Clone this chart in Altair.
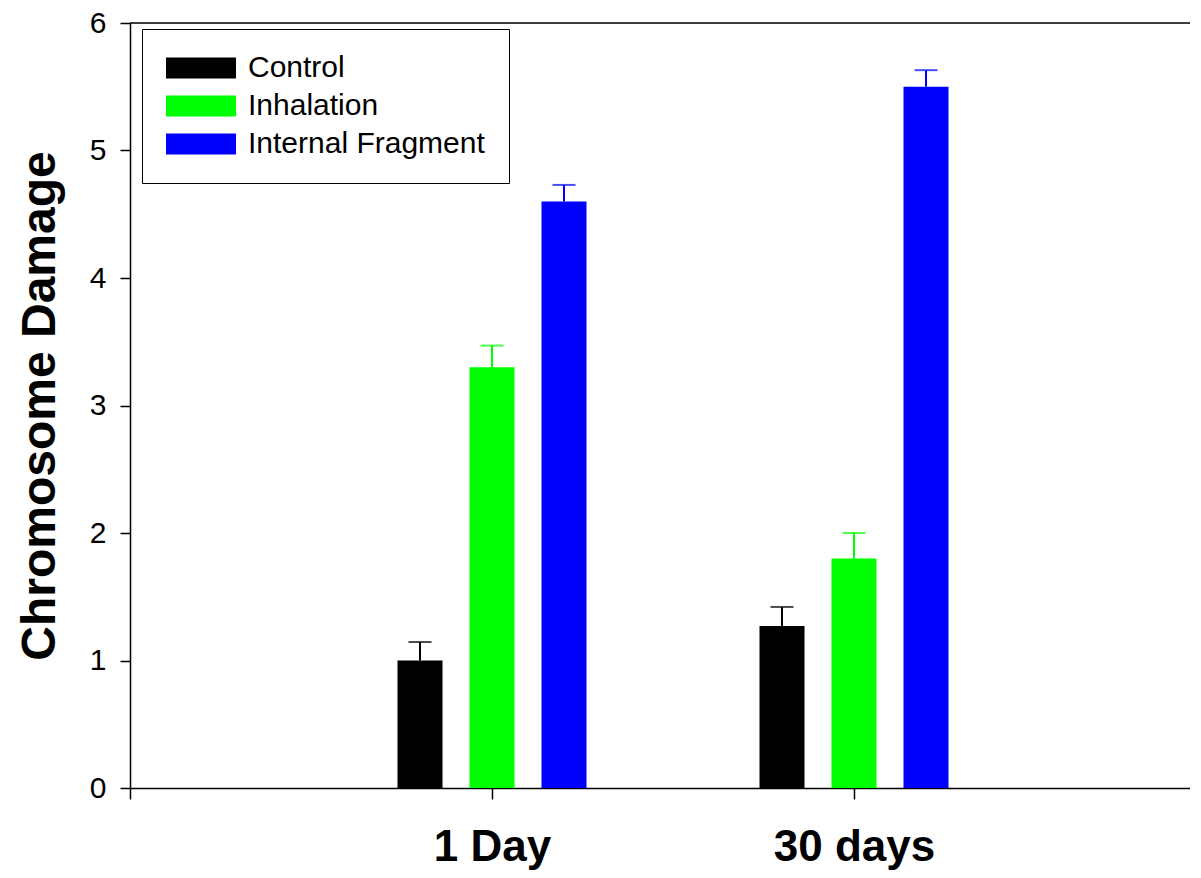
import altair as alt
import pandas as pd

groups = ["1 Day", "30 days"]
series = ["Control", "Inhalation", "Internal Fragment"]
colors = ["#000000", "#00ff00", "#0000ff"]
control = [1.0, 1.27]
inhalation = [3.3, 1.8]
internal = [4.6, 5.5]
control_err = [0.145, 0.15]
inhalation_err = [0.17, 0.2]
internal_err = [0.13, 0.13]
y_ticks = [0, 1, 2, 3, 4, 5, 6]

W = 1060
H = 765
GROUP_PX = 362
OFFSET_PX = 72
FONT = "Liberation Sans"

rows = []
for si, (name, vals, errs) in enumerate(
    zip(series, [control, inhalation, internal], [control_err, inhalation_err, internal_err])
):
    for gi, g in enumerate(groups):
        rows.append(
            dict(
                group=g,
                series=name,
                value=vals[gi],
                err=errs[gi],
                top=vals[gi] + errs[gi],
                pos=gi + 1 + (si - 1) * OFFSET_PX / GROUP_PX,
            )
        )
df = pd.DataFrame(rows)

label_expr = "''"
for i in reversed(range(len(groups))):
    label_expr = f"datum.value == {i + 1} ? '{groups[i]}' : {label_expr}"

xscale = alt.Scale(domain=[0, W / GROUP_PX], nice=False, zero=False, padding=0)
yscale = alt.Scale(domain=[0, 6], nice=False, padding=0)
color_scale = alt.Scale(domain=series, range=colors)

x_axis = alt.Axis(
    values=[0, 1, 2],
    labelExpr=label_expr,
    title=None,
    tickSize=11,
    labelPadding=61,
    labelBaseline="alphabetic",
    labelFont=FONT,
    labelFontSize=44,
    labelFontWeight="bold",
    labelColor="black",
    domainColor="black",
    tickColor="black",
    domainWidth=1.5,
    tickWidth=1.5,
    grid=False,
    labelFlush=False,
    labelOverlap=False,
)
y_axis = alt.Axis(
    values=y_ticks,
    format="d",
    title="Chromosome Damage",
    titleFont=FONT,
    titleFontSize=48,
    titleFontWeight="bold",
    titleColor="black",
    titleX=-76,
    titleY=H / 2,
    titleAngle=270,
    titleAlign="center",
    titleBaseline="alphabetic",
    tickSize=10,
    labelPadding=14,
    labelFont=FONT,
    labelFontSize=30,
    labelColor="black",
    domainColor="black",
    tickColor="black",
    domainWidth=1.5,
    tickWidth=1.5,
    grid=False,
    labelFlush=False,
)

legend = alt.Legend(
    orient="none",
    legendX=12,
    legendY=6,
    title=None,
    symbolType="M-3.333,-1H3.333V1H-3.333Z",
    symbolSize=441,
    symbolStrokeWidth=0,
    symbolOffset=20,
    symbolOpacity=1,
    labelOffset=32,
    labelFont=FONT,
    labelFontSize=30,
    labelColor="black",
    labelLimit=400,
    rowPadding=8,
    padding=24,
    strokeColor="black",
    fillColor="white",
)

base = alt.Chart(df)

bars = base.mark_bar(size=45).encode(
    x=alt.X("pos:Q", scale=xscale, axis=x_axis),
    y=alt.Y("value:Q", scale=yscale, axis=y_axis),
    color=alt.Color("series:N", scale=color_scale, legend=legend, sort=series),
)

err_rules = base.mark_rule(strokeWidth=2).encode(
    x=alt.X("pos:Q", scale=xscale),
    y=alt.Y("value:Q", scale=yscale),
    y2="top:Q",
    color=alt.Color("series:N", scale=color_scale, legend=None),
)

caps = base.mark_tick(orient="horizontal", size=23, thickness=2).encode(
    x=alt.X("pos:Q", scale=xscale),
    y=alt.Y("top:Q", scale=yscale),
    color=alt.Color("series:N", scale=color_scale, legend=None),
)

top_line = alt.Chart(pd.DataFrame({"y": [6]})).mark_rule(color="black", strokeWidth=1.5).encode(
    y=alt.Y("y:Q", scale=yscale)
)

chart = (
    alt.layer(bars, err_rules, caps, top_line)
    .properties(
        width=W,
        height=H,
        autosize=alt.AutoSizeParams(type="none"),
        padding={"left": 122, "top": 15, "right": 0, "bottom": 82},
        background="white",
    )
    .configure_view(stroke=None)
    .configure(font=FONT)
)

chart.save("out.html", embed_options={"renderer": "svg", "actions": False})
